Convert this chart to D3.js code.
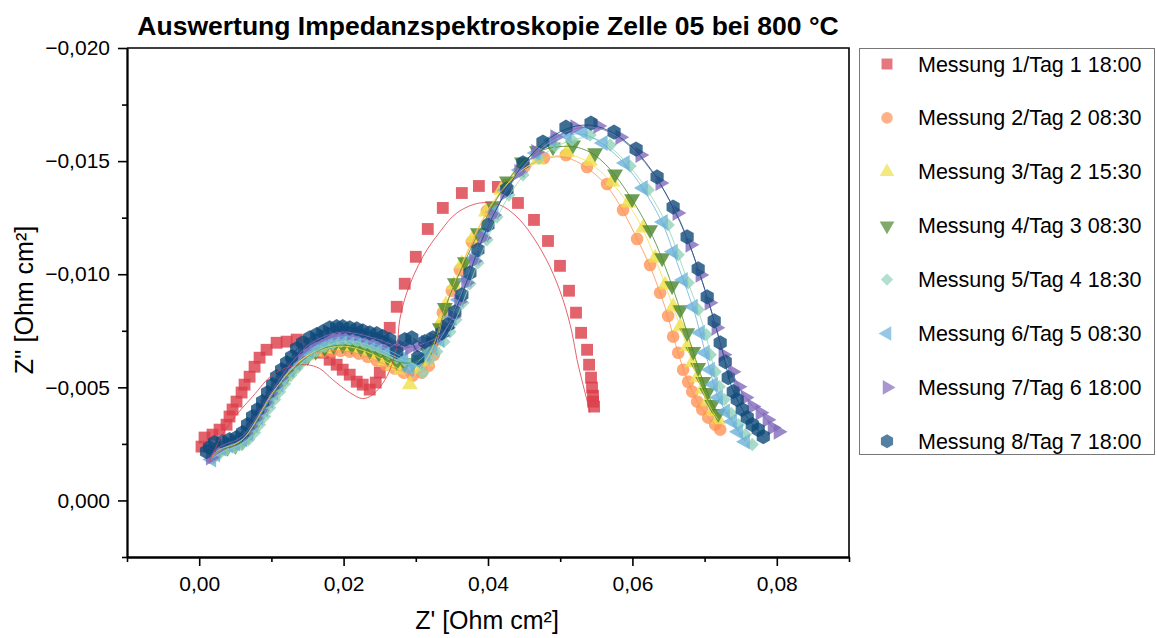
<!DOCTYPE html>
<html>
<head>
<meta charset="utf-8">
<script src="https://cdn.jsdelivr.net/npm/d3@7"></script>
<style>
  body { margin: 0; background: #fff; }
  text { font-family: Arial, "Liberation Sans", sans-serif; fill: #000; }
</style>
</head>
<body>
<svg id="chart" width="1157" height="638"></svg>
<script>
// Nyquist data: [Z' (Ohm cm²), Z'' (Ohm cm²)]
const m1 = [[0.00032,-0.00238],[0.00074,-0.00278],[0.00184,-0.00291],[0.00282,-0.00313],[0.00379,-0.00335],[0.00420,-0.00371],[0.00462,-0.00402],[0.00517,-0.00437],[0.00587,-0.00477],[0.00628,-0.00512],[0.00698,-0.00547],[0.00767,-0.00591],[0.00836,-0.00631],[0.00933,-0.00666],[0.01072,-0.00697],[0.01211,-0.00702],[0.01350,-0.00711],[0.01530,-0.00688],[0.01713,-0.00653],[0.01807,-0.00622],[0.01904,-0.00600],[0.01988,-0.00578],[0.02085,-0.00556],[0.02182,-0.00525],[0.02265,-0.00512],[0.02362,-0.00490],[0.02445,-0.00521],[0.02501,-0.00565],[0.02570,-0.00658],[0.02639,-0.00763],[0.02736,-0.00856],[0.02847,-0.00958],[0.03000,-0.01077],[0.03166,-0.01200],[0.03374,-0.01293],[0.03638,-0.01359],[0.03874,-0.01390],[0.04137,-0.01386],[0.04415,-0.01315],[0.04637,-0.01240],[0.04831,-0.01147],[0.04997,-0.01037],[0.05122,-0.00927],[0.05219,-0.00830],[0.05289,-0.00741],[0.05372,-0.00666],[0.05400,-0.00600],[0.05427,-0.00543],[0.05441,-0.00499],[0.05455,-0.00463],[0.05455,-0.00437],[0.05469,-0.00415]];

const m2 = [[0.00171,-0.00190],[0.00254,-0.00216],[0.00365,-0.00234],[0.00476,-0.00243],[0.00573,-0.00260],[0.00656,-0.00287],[0.00725,-0.00322],[0.00795,-0.00357],[0.00864,-0.00397],[0.00933,-0.00437],[0.01003,-0.00472],[0.01086,-0.00507],[0.01169,-0.00543],[0.01266,-0.00578],[0.01363,-0.00609],[0.01474,-0.00635],[0.01585,-0.00653],[0.01711,-0.00658],[0.01835,-0.00662],[0.01960,-0.00662],[0.02085,-0.00658],[0.02210,-0.00649],[0.02334,-0.00635],[0.02459,-0.00618],[0.02584,-0.00600],[0.02709,-0.00583],[0.02833,-0.00565],[0.02958,-0.00552],[0.03083,-0.00565],[0.03180,-0.00596],[0.03250,-0.00644],[0.03305,-0.00711],[0.03347,-0.00772],[0.03374,-0.00830],[0.03499,-0.00927],[0.03610,-0.01019],[0.03777,-0.01143],[0.03985,-0.01280],[0.04248,-0.01395],[0.04512,-0.01478],[0.04775,-0.01514],[0.05080,-0.01527],[0.05372,-0.01474],[0.05649,-0.01399],[0.05871,-0.01284],[0.06065,-0.01156],[0.06245,-0.01041],[0.06384,-0.00918],[0.06495,-0.00816],[0.06564,-0.00724],[0.06634,-0.00653],[0.06703,-0.00578],[0.06772,-0.00525],[0.06828,-0.00481],[0.06897,-0.00437],[0.06967,-0.00402],[0.07050,-0.00366],[0.07147,-0.00335],[0.07216,-0.00313]];

const m3 = [[0.00185,-0.00199],[0.00268,-0.00225],[0.00379,-0.00238],[0.00490,-0.00247],[0.00587,-0.00265],[0.00670,-0.00291],[0.00739,-0.00327],[0.00809,-0.00362],[0.00878,-0.00402],[0.00947,-0.00441],[0.01017,-0.00477],[0.01100,-0.00512],[0.01183,-0.00547],[0.01280,-0.00583],[0.01377,-0.00613],[0.01488,-0.00640],[0.01599,-0.00658],[0.01724,-0.00671],[0.01849,-0.00680],[0.01960,-0.00684],[0.02085,-0.00680],[0.02196,-0.00671],[0.02321,-0.00658],[0.02445,-0.00640],[0.02570,-0.00618],[0.02681,-0.00596],[0.02792,-0.00578],[0.02917,-0.00512],[0.03028,-0.00578],[0.03139,-0.00613],[0.03222,-0.00666],[0.03291,-0.00724],[0.03347,-0.00790],[0.03416,-0.00865],[0.03527,-0.00953],[0.03638,-0.01046],[0.03791,-0.01161],[0.03971,-0.01275],[0.04179,-0.01372],[0.04415,-0.01452],[0.04692,-0.01505],[0.05094,-0.01540],[0.05413,-0.01500],[0.05718,-0.01408],[0.05940,-0.01315],[0.06148,-0.01205],[0.06315,-0.01072],[0.06453,-0.00953],[0.06564,-0.00856],[0.06662,-0.00768],[0.06758,-0.00680],[0.06828,-0.00609],[0.06897,-0.00543],[0.06967,-0.00490],[0.07036,-0.00437],[0.07106,-0.00393],[0.07189,-0.00357]];

const m4 = [[0.00198,-0.00203],[0.00282,-0.00221],[0.00393,-0.00234],[0.00503,-0.00243],[0.00601,-0.00260],[0.00684,-0.00287],[0.00753,-0.00322],[0.00822,-0.00357],[0.00892,-0.00397],[0.00961,-0.00437],[0.01031,-0.00472],[0.01114,-0.00507],[0.01197,-0.00543],[0.01294,-0.00578],[0.01391,-0.00609],[0.01502,-0.00635],[0.01613,-0.00658],[0.01738,-0.00675],[0.01863,-0.00684],[0.01988,-0.00688],[0.02112,-0.00684],[0.02237,-0.00675],[0.02362,-0.00662],[0.02487,-0.00649],[0.02612,-0.00631],[0.02736,-0.00613],[0.02847,-0.00605],[0.02958,-0.00609],[0.03069,-0.00622],[0.03166,-0.00653],[0.03250,-0.00697],[0.03333,-0.00763],[0.03402,-0.00852],[0.03541,-0.00962],[0.03680,-0.01055],[0.03860,-0.01183],[0.04068,-0.01302],[0.04262,-0.01412],[0.04470,-0.01496],[0.04678,-0.01545],[0.04900,-0.01562],[0.05177,-0.01571],[0.05483,-0.01536],[0.05760,-0.01443],[0.05996,-0.01333],[0.06245,-0.01196],[0.06412,-0.01072],[0.06550,-0.00949],[0.06662,-0.00843],[0.06758,-0.00741],[0.06842,-0.00658],[0.06911,-0.00587],[0.06981,-0.00525],[0.07036,-0.00477],[0.07106,-0.00424],[0.07189,-0.00384]];

const m5 = [[0.00198,-0.00190],[0.00282,-0.00207],[0.00379,-0.00225],[0.00490,-0.00234],[0.00587,-0.00247],[0.00684,-0.00269],[0.00767,-0.00300],[0.00836,-0.00335],[0.00906,-0.00371],[0.00975,-0.00410],[0.01044,-0.00446],[0.01114,-0.00481],[0.01183,-0.00516],[0.01266,-0.00552],[0.01350,-0.00583],[0.01433,-0.00613],[0.01530,-0.00640],[0.01627,-0.00662],[0.01738,-0.00680],[0.01849,-0.00693],[0.01960,-0.00702],[0.02071,-0.00706],[0.02182,-0.00702],[0.02293,-0.00693],[0.02404,-0.00680],[0.02515,-0.00666],[0.02626,-0.00649],[0.02736,-0.00631],[0.02847,-0.00618],[0.02958,-0.00609],[0.03097,-0.00565],[0.03194,-0.00622],[0.03291,-0.00658],[0.03388,-0.00702],[0.03472,-0.00746],[0.03555,-0.00799],[0.03652,-0.00874],[0.03749,-0.00958],[0.03860,-0.01050],[0.03985,-0.01152],[0.04123,-0.01253],[0.04290,-0.01350],[0.04484,-0.01439],[0.04706,-0.01514],[0.04928,-0.01567],[0.05164,-0.01593],[0.05413,-0.01615],[0.05691,-0.01571],[0.05968,-0.01478],[0.06218,-0.01372],[0.06495,-0.01218],[0.06634,-0.01086],[0.06772,-0.00962],[0.06911,-0.00843],[0.07022,-0.00733],[0.07078,-0.00644],[0.07147,-0.00569],[0.07203,-0.00503],[0.07272,-0.00446],[0.07369,-0.00384],[0.07466,-0.00335],[0.07563,-0.00291],[0.07660,-0.00247]];

const m6 = [[0.00171,-0.00181],[0.00226,-0.00203],[0.00309,-0.00229],[0.00406,-0.00243],[0.00503,-0.00252],[0.00601,-0.00269],[0.00684,-0.00296],[0.00753,-0.00331],[0.00822,-0.00366],[0.00892,-0.00402],[0.00961,-0.00441],[0.01031,-0.00477],[0.01100,-0.00512],[0.01169,-0.00547],[0.01252,-0.00578],[0.01336,-0.00609],[0.01419,-0.00635],[0.01516,-0.00662],[0.01613,-0.00684],[0.01724,-0.00702],[0.01835,-0.00715],[0.01946,-0.00724],[0.02057,-0.00724],[0.02168,-0.00719],[0.02279,-0.00711],[0.02390,-0.00697],[0.02501,-0.00684],[0.02612,-0.00666],[0.02723,-0.00649],[0.02833,-0.00631],[0.02917,-0.00578],[0.03028,-0.00613],[0.03139,-0.00644],[0.03236,-0.00675],[0.03333,-0.00711],[0.03416,-0.00755],[0.03499,-0.00808],[0.03596,-0.00887],[0.03707,-0.00975],[0.03818,-0.01072],[0.03943,-0.01174],[0.04082,-0.01275],[0.04248,-0.01372],[0.04442,-0.01461],[0.04664,-0.01536],[0.04886,-0.01593],[0.05094,-0.01615],[0.05316,-0.01628],[0.05593,-0.01580],[0.05899,-0.01492],[0.06148,-0.01381],[0.06426,-0.01231],[0.06564,-0.01099],[0.06703,-0.00975],[0.06842,-0.00856],[0.06939,-0.00741],[0.07008,-0.00653],[0.07078,-0.00578],[0.07119,-0.00512],[0.07189,-0.00455],[0.07286,-0.00393],[0.07383,-0.00349],[0.07466,-0.00304],[0.07563,-0.00260]];

const m7 = [[0.00157,-0.00190],[0.00198,-0.00216],[0.00282,-0.00238],[0.00379,-0.00252],[0.00476,-0.00260],[0.00559,-0.00274],[0.00642,-0.00296],[0.00712,-0.00327],[0.00781,-0.00362],[0.00850,-0.00397],[0.00920,-0.00432],[0.00989,-0.00472],[0.01058,-0.00507],[0.01128,-0.00543],[0.01197,-0.00574],[0.01266,-0.00605],[0.01350,-0.00635],[0.01433,-0.00666],[0.01530,-0.00693],[0.01627,-0.00711],[0.01724,-0.00724],[0.01821,-0.00737],[0.01918,-0.00741],[0.02015,-0.00746],[0.02112,-0.00741],[0.02210,-0.00737],[0.02307,-0.00728],[0.02404,-0.00719],[0.02501,-0.00711],[0.02598,-0.00697],[0.02695,-0.00688],[0.02806,-0.00680],[0.02917,-0.00675],[0.03028,-0.00684],[0.03139,-0.00697],[0.03250,-0.00711],[0.03347,-0.00728],[0.03430,-0.00763],[0.03513,-0.00812],[0.03596,-0.00878],[0.03694,-0.00962],[0.03804,-0.01059],[0.03929,-0.01161],[0.04068,-0.01262],[0.04234,-0.01359],[0.04429,-0.01452],[0.04664,-0.01540],[0.04928,-0.01606],[0.05205,-0.01650],[0.05524,-0.01655],[0.05829,-0.01606],[0.06107,-0.01527],[0.06384,-0.01403],[0.06620,-0.01271],[0.06800,-0.01130],[0.06939,-0.00997],[0.07064,-0.00874],[0.07161,-0.00763],[0.07258,-0.00644],[0.07383,-0.00569],[0.07466,-0.00503],[0.07563,-0.00455],[0.07660,-0.00415],[0.07771,-0.00388],[0.07868,-0.00357],[0.07938,-0.00322],[0.08021,-0.00304]];

const m8 = [[0.00101,-0.00216],[0.00143,-0.00234],[0.00212,-0.00256],[0.00323,-0.00260],[0.00420,-0.00269],[0.00517,-0.00278],[0.00601,-0.00300],[0.00670,-0.00335],[0.00739,-0.00371],[0.00809,-0.00402],[0.00878,-0.00437],[0.00947,-0.00477],[0.01017,-0.00512],[0.01072,-0.00547],[0.01141,-0.00578],[0.01211,-0.00609],[0.01280,-0.00635],[0.01350,-0.00671],[0.01433,-0.00697],[0.01530,-0.00719],[0.01627,-0.00733],[0.01711,-0.00746],[0.01807,-0.00763],[0.01904,-0.00768],[0.01988,-0.00768],[0.02085,-0.00763],[0.02182,-0.00759],[0.02265,-0.00750],[0.02362,-0.00741],[0.02459,-0.00737],[0.02542,-0.00724],[0.02639,-0.00711],[0.02736,-0.00658],[0.02847,-0.00711],[0.02945,-0.00719],[0.03028,-0.00631],[0.03125,-0.00702],[0.03236,-0.00719],[0.03360,-0.00741],[0.03444,-0.00777],[0.03541,-0.00834],[0.03638,-0.00909],[0.03749,-0.01006],[0.03860,-0.01108],[0.03999,-0.01218],[0.04262,-0.01377],[0.04484,-0.01492],[0.04761,-0.01584],[0.05080,-0.01650],[0.05427,-0.01668],[0.05746,-0.01628],[0.06051,-0.01553],[0.06342,-0.01430],[0.06564,-0.01297],[0.06758,-0.01165],[0.06911,-0.01024],[0.07036,-0.00900],[0.07133,-0.00794],[0.07216,-0.00697],[0.07286,-0.00613],[0.07327,-0.00543],[0.07397,-0.00481],[0.07452,-0.00446],[0.07521,-0.00402],[0.07591,-0.00366],[0.07660,-0.00335],[0.07743,-0.00313],[0.07813,-0.00282]];

// Equivalent-circuit fit for measurement 1
const fit1 = [[0.00143,-0.00168],[0.00282,-0.00269],[0.00462,-0.00357],[0.00739,-0.00459],[0.01017,-0.00556],[0.01252,-0.00591],[0.01488,-0.00600],[0.01669,-0.00583],[0.01849,-0.00534],[0.02085,-0.00477],[0.02265,-0.00450],[0.02404,-0.00468],[0.02598,-0.00547],[0.02736,-0.00680],[0.02778,-0.00799],[0.02875,-0.00918],[0.03097,-0.01077],[0.03333,-0.01187],[0.03569,-0.01271],[0.03888,-0.01315],[0.04165,-0.01306],[0.04401,-0.01253],[0.04623,-0.01165],[0.04858,-0.01033],[0.05039,-0.00887],[0.05164,-0.00741],[0.05233,-0.00622],[0.05316,-0.00512],[0.05386,-0.00424],[0.05413,-0.00388]];

const seriesNames = ["Messung 1/Tag 1 18:00","Messung 2/Tag 2 08:30","Messung 3/Tag 2 15:30","Messung 4/Tag 3 08:30","Messung 5/Tag 4 18:30","Messung 6/Tag 5 08:30","Messung 7/Tag 6 18:00","Messung 8/Tag 7 18:00"];
const seriesData = [m1, m2, m3, m4, m5, m6, m7, m8];
const seriesColors = ["#DC3C48","#FF9256","#EFE04A","#4A862A","#92D3BA","#6AB0DB","#816ABA","#0E4A79"];

const xTicks = [0, 0.02, 0.04, 0.06, 0.08];
const xMinor = [-0.01, 0.01, 0.03, 0.05, 0.07, 0.09];
const yTicks = [-0.02, -0.015, -0.01, -0.005, 0];
const yMinor = [-0.0175, -0.0125, -0.0075, -0.0025, 0.0025];

// Pointy-top hexagon for d3.symbol
const symbolHexagon = {
  draw(ctx, size) {
    const r = Math.sqrt(size / 2.598);
    for (let i = 0; i < 6; i++) {
      const a = -Math.PI / 2 + i * Math.PI / 3;
      const px = r * Math.cos(a), py = r * Math.sin(a);
      if (i) ctx.lineTo(px, py); else ctx.moveTo(px, py);
    }
    ctx.closePath();
  }
};
const shapes = [
  { type: d3.symbolSquare, size: 140, rot: 0 },
  { type: d3.symbolCircle, size: 125, rot: 0 },
  { type: d3.symbolTriangle, size: 110, rot: 0 },
  { type: d3.symbolTriangle, size: 110, rot: 180 },
  { type: d3.symbolSquare, size: 90, rot: 45 },
  { type: d3.symbolTriangle, size: 110, rot: -90 },
  { type: d3.symbolTriangle, size: 110, rot: 90 },
  { type: symbolHexagon, size: 150, rot: 0 }
];

const svg = d3.select("#chart");
const x = d3.scaleLinear([-0.01, 0.09], [127, 849]);
const y = d3.scaleLinear([-0.02, 0.0025], [48, 557]);
const [plotLeft, plotRight] = x.range();
const [plotTop, plotBottom] = y.range();
const fmt = f => d => d3.format(f)(d).replace(".", ",");

// Title
svg.append("text").attr("x", 488).attr("y", 35).attr("text-anchor", "middle")
  .style("font-size", "26.5px").style("font-weight", "bold")
  .text("Auswertung Impedanzspektroskopie Zelle 05 bei 800 °C");

// Plot frame (top and right edges)
svg.append("path").attr("d", `M${plotLeft},${plotTop}H${plotRight}V${plotBottom}`)
  .attr("fill", "none").attr("stroke", "#000").attr("stroke-width", 1.6);

// Markers
const plot = svg.append("g");
seriesData.forEach((data, i) => {
  const sym = d3.symbol(shapes[i].type, shapes[i].size);
  plot.append("g").selectAll("path").data(data).join("path")
    .attr("d", sym)
    .attr("transform", d => `translate(${x(d[0])},${y(d[1])}) rotate(${shapes[i].rot})`)
    .attr("fill", seriesColors[i]).attr("fill-opacity", 0.8);
});

// Fit curves
plot.append("path").attr("d", d3.line().x(d => x(d[0])).y(d => y(d[1])).curve(d3.curveCatmullRom)(fit1))
  .attr("fill", "none").attr("stroke", seriesColors[0]).attr("stroke-width", 0.8);
seriesData.slice(1).forEach((data, i) => {
  plot.append("path").attr("d", d3.line().x(d => x(d[0])).y(d => y(d[1])).curve(d3.curveBasis)(data))
    .attr("fill", "none").attr("stroke", seriesColors[i + 1]).attr("stroke-width", 0.8);
});

// Axes
const gx = svg.append("g").attr("transform", `translate(0,${plotBottom})`);
gx.call(d3.axisBottom(x).tickValues(xTicks).tickFormat(fmt(".2f")).tickSize(9).tickPadding(10).tickSizeOuter(0));
gx.append("g").call(d3.axisBottom(x).tickValues(xMinor).tickFormat("").tickSize(5).tickSizeOuter(0));
const gy = svg.append("g").attr("transform", `translate(${plotLeft},0)`);
gy.call(d3.axisLeft(y).tickValues(yTicks).tickFormat(fmt(".3f")).tickSize(9).tickPadding(8).tickSizeOuter(0));
gy.append("g").call(d3.axisLeft(y).tickValues(yMinor).tickFormat("").tickSize(5).tickSizeOuter(0));
svg.selectAll(".domain").attr("stroke-width", 1.8);
svg.selectAll(".tick line").attr("stroke-width", 1.6);
svg.selectAll(".tick text").style("font-size", "21px").style("font-family", "Arial, 'Liberation Sans', sans-serif").attr("fill", "#000");

// Axis titles
svg.append("text").attr("x", 487).attr("y", 629).attr("text-anchor", "middle")
  .style("font-size", "25px").text("Z' [Ohm cm²]");
svg.append("text").attr("transform", "translate(33,300) rotate(-90)").attr("text-anchor", "middle")
  .style("font-size", "25px").text("Z'' [Ohm cm²]");

// Legend
const lg = svg.append("g");
lg.append("rect").attr("x", 859.5).attr("y", 48.5).attr("width", 295).attr("height", 406)
  .attr("fill", "#fff").attr("stroke", "#777").attr("stroke-width", 1);
seriesNames.forEach((name, i) => {
  const cy = 64 + i * 53.9;
  lg.append("path").attr("d", d3.symbol(shapes[i].type, shapes[i].size * 0.85)())
    .attr("transform", `translate(887,${cy}) rotate(${shapes[i].rot})`)
    .attr("fill", seriesColors[i]).attr("fill-opacity", 0.7);
  lg.append("text").attr("x", 918).attr("y", cy + 7.5).style("font-size", "21.5px").text(name);
});
</script>
</body>
</html>
